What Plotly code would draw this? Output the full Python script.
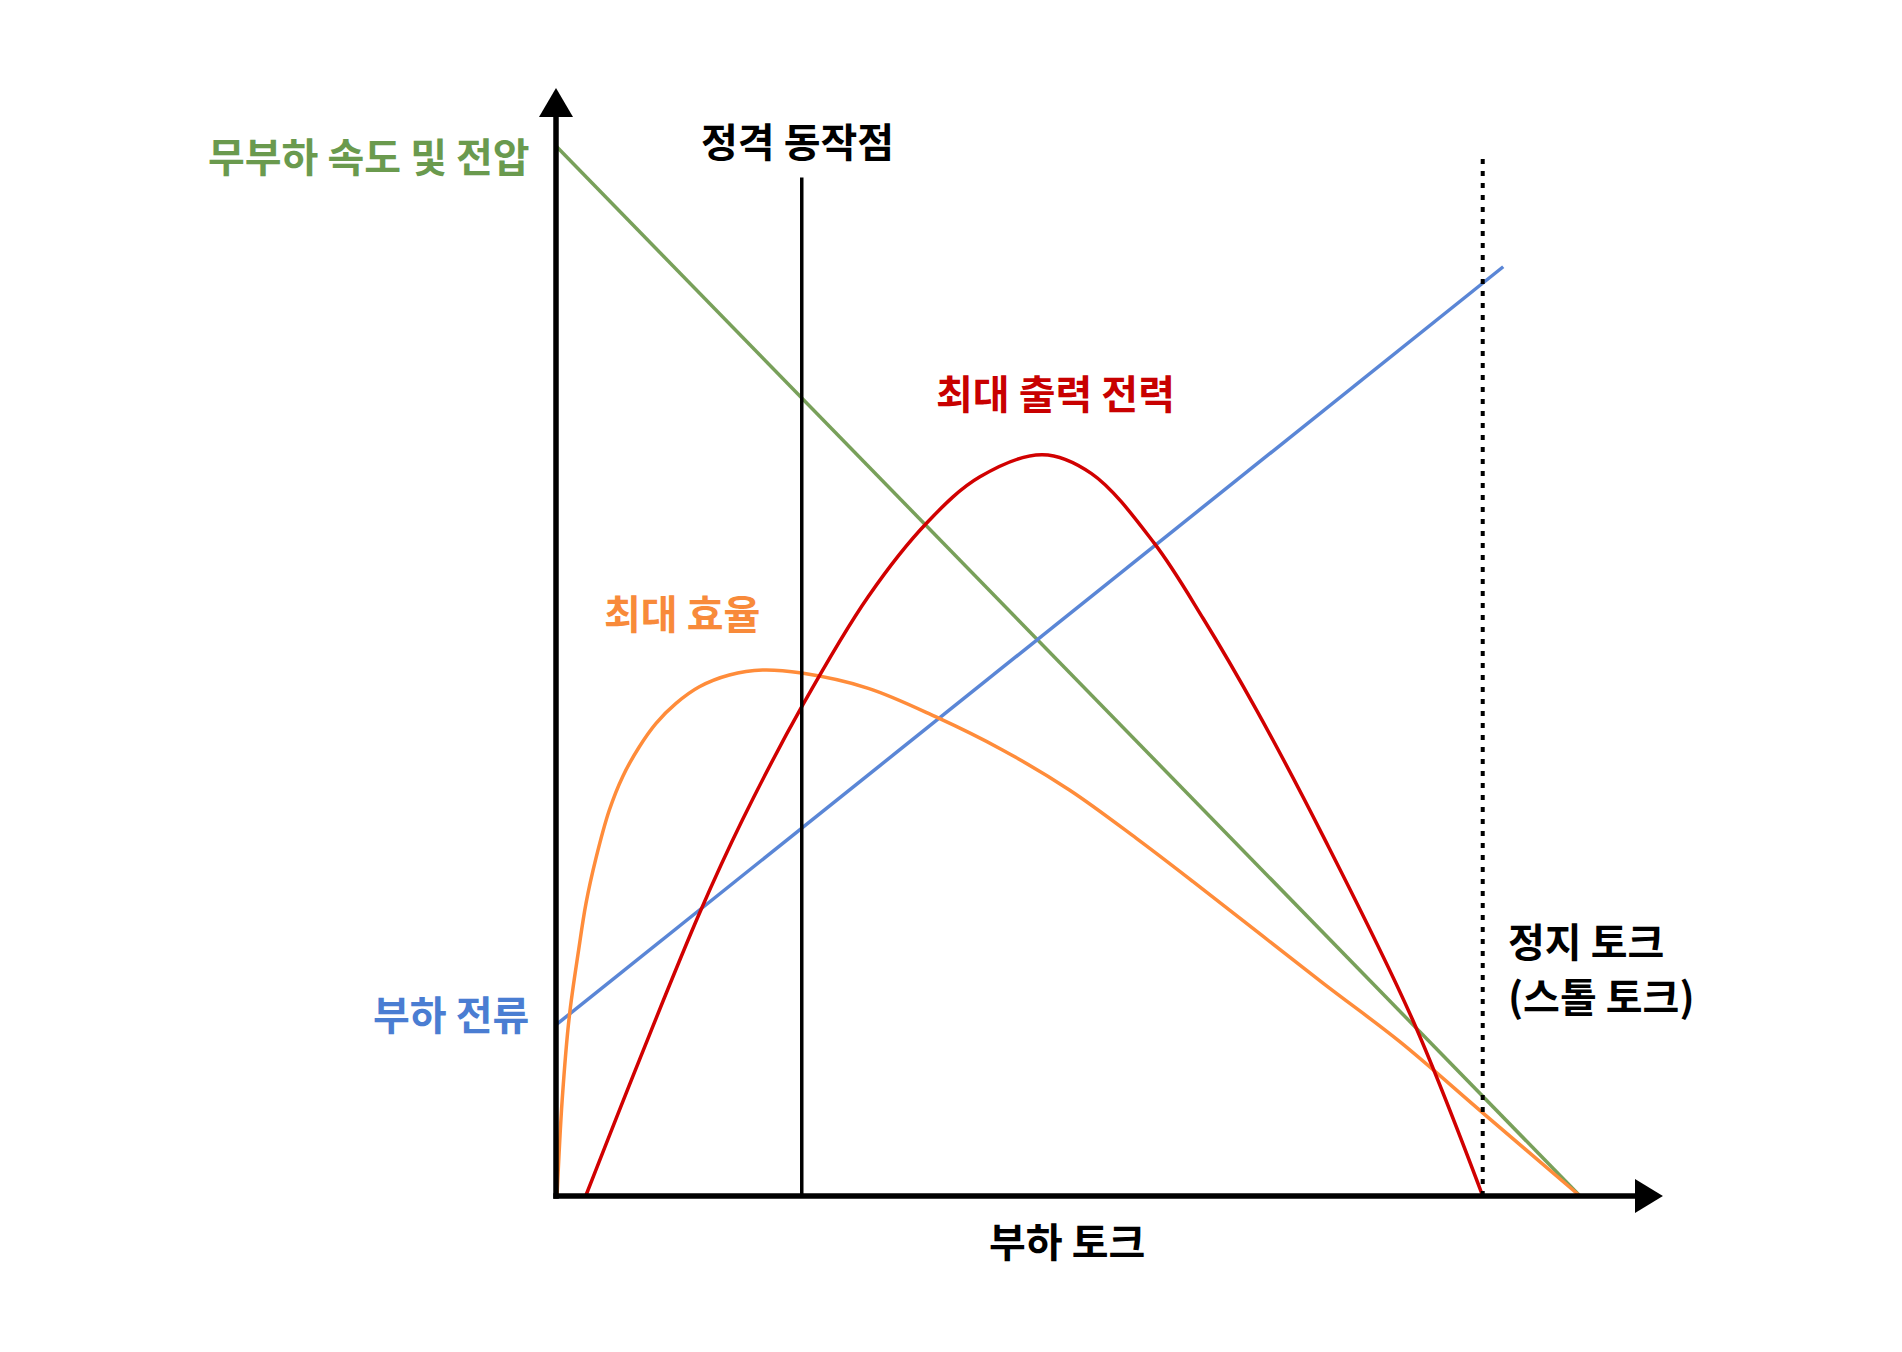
import plotly.graph_objects as go

# Green: no-load speed & voltage (straight line)
speed_torque = [0.0, 1.0]
speed_value = [1.0, 0.0]

# Blue: load current (straight line)
current_torque = [0.0, 0.925]
current_value = [0.163, 0.885]

# Orange: efficiency
eff_torque = [0.001, 0.006, 0.013, 0.0221, 0.0293, 0.0391, 0.0521, 0.0651, 0.0814,
              0.0977, 0.1172, 0.140, 0.1693, 0.2018, 0.240, 0.305, 0.3706, 0.436,
              0.5014, 0.5668, 0.624, 0.749, 0.824, 0.9056, 1.0]
eff_value = [0.0, 0.091, 0.171, 0.2343, 0.2787, 0.322, 0.3676, 0.3994, 0.4279,
             0.4502, 0.4692, 0.485, 0.4962, 0.501, 0.498, 0.4835, 0.4565, 0.4248,
             0.3867, 0.3406, 0.298, 0.2027, 0.147, 0.0787, 0.0]

# Red: output power
power_torque = [0.029, 0.0814, 0.140, 0.182, 0.240, 0.305, 0.362, 0.414, 0.475,
                0.523, 0.584, 0.632, 0.684, 0.749, 0.836, 0.905]
power_value = [0.0, 0.1295, 0.269, 0.358, 0.466, 0.571, 0.641, 0.685, 0.706,
               0.688, 0.622, 0.55, 0.463, 0.343, 0.169, 0.0]

# Reference markers
rated_torque = 0.240
rated_height = 0.970
stall_torque = 0.905
stall_height = 0.989

FONT = "Noto Sans CJK KR"
GREEN_LINE, GREEN_TXT = "#78A05A", "#6A9A4E"
BLUE_LINE, BLUE_TXT = "#5A86D6", "#4A7DD2"
ORANGE_LINE, ORANGE_TXT = "#FF8C3A", "#F88A3A"
RED_LINE, RED_TXT = "#D10000", "#C80000"
LW = 3.5

fig = go.Figure()

fig.add_trace(go.Scatter(x=speed_torque, y=speed_value, mode="lines",
                         line=dict(color=GREEN_LINE, width=LW), hoverinfo="skip"))
fig.add_trace(go.Scatter(x=current_torque, y=current_value, mode="lines",
                         line=dict(color=BLUE_LINE, width=LW), hoverinfo="skip"))
fig.add_trace(go.Scatter(x=eff_torque, y=eff_value, mode="lines",
                         line=dict(color=ORANGE_LINE, width=LW, shape="spline", smoothing=1.0),
                         hoverinfo="skip"))
fig.add_trace(go.Scatter(x=power_torque, y=power_value, mode="lines",
                         line=dict(color=RED_LINE, width=LW, shape="spline", smoothing=1.0),
                         hoverinfo="skip"))

# rated operating point (solid) and stall torque (dotted)
fig.add_trace(go.Scatter(x=[rated_torque, rated_torque], y=[0, rated_height], mode="lines",
                         line=dict(color="black", width=3.5), hoverinfo="skip"))
fig.add_trace(go.Scatter(x=[stall_torque, stall_torque], y=[0, stall_height], mode="lines",
                         line=dict(color="black", width=4, dash="5px,7px"), hoverinfo="skip"))

# axes with arrow heads
shapes = [
    dict(type="line", x0=0, y0=-0.0026, x1=0, y1=1.03, line=dict(color="black", width=5.5)),
    dict(type="line", x0=-0.0026, y0=0, x1=1.055, y1=0, line=dict(color="black", width=5.5)),
    dict(type="path", path="M -0.0166,1.0276 L 0.0166,1.0276 L 0,1.0552 Z",
         fillcolor="black", line=dict(width=0)),
    dict(type="path", path="M 1.0537,-0.0162 L 1.0537,0.0162 L 1.081,0 Z",
         fillcolor="black", line=dict(width=0)),
]

def label(text, x, y, color, xanchor="center"):
    return dict(text=text, x=x, y=y, xref="x", yref="y", showarrow=False,
                xanchor=xanchor, yanchor="middle",
                font=dict(family=FONT, size=40, color=color, weight="bold"))

annotations = [
    label("무부하 속도 및 전압", -0.0234, 0.9914, GREEN_TXT, xanchor="right"),
    label("부하 전류", -0.0244, 0.1743, BLUE_TXT, xanchor="right"),
    label("정격 동작점", 0.2363, 1.0057, "black"),
    label("최대 출력 전력", 0.488, 0.7657, RED_TXT),
    label("최대 효율", 0.123, 0.556, ORANGE_TXT),
    label("부하 토크", 0.499, -0.0419, "black"),
    label("정지 토크", 0.9277, 0.2438, "black", xanchor="left"),
    label("(스톨 토크)", 0.9277, 0.1914, "black", xanchor="left"),
]

# page body has an 8px margin, so the ranges are shifted to keep the reference placement
fig.update_layout(
    width=1902, height=1352,
    margin=dict(l=0, r=0, t=0, b=0),
    paper_bgcolor="white", plot_bgcolor="white",
    showlegend=False,
    shapes=shapes,
    annotations=annotations,
    xaxis=dict(range=[-0.53516, 1.32227], visible=False, fixedrange=True),
    yaxis=dict(range=[-0.15619, 1.13143], visible=False, fixedrange=True),
)

fig.write_html("out.html")
